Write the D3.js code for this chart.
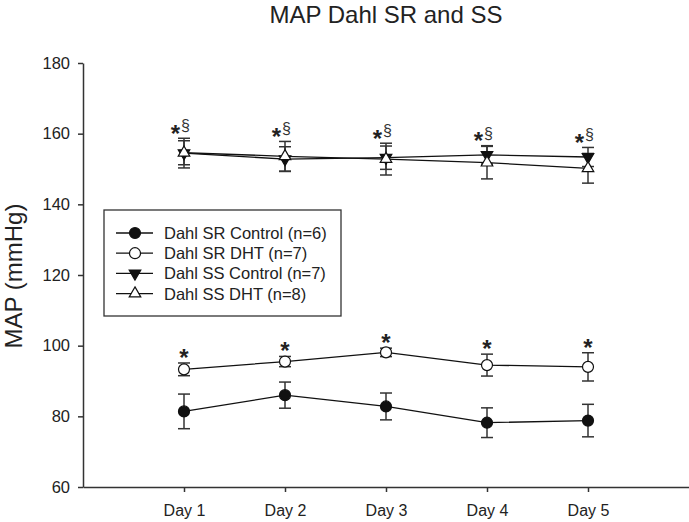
<!DOCTYPE html>
<html><head><meta charset="utf-8">
<script src="https://cdn.jsdelivr.net/npm/d3@7"></script>
<style>
body{margin:0;background:#fff;}
svg{display:block;font-family:"Liberation Sans",Arial,sans-serif;}
</style></head>
<body>
<svg id="chart" width="689" height="522"></svg>
<script>
const days = ["Day 1","Day 2","Day 3","Day 4","Day 5"];
const yTicks = [60,80,100,120,140,160,180];
const seriesNames = ["Dahl SR Control (n=6)","Dahl SR DHT (n=7)","Dahl SS Control (n=7)","Dahl SS DHT (n=8)"];
const srControl = [81.4, 86.0, 82.8, 78.2, 78.8];
const srControlSE = [4.9, 3.7, 3.8, 4.2, 4.6];
const srDHT = [93.3, 95.5, 98.1, 94.5, 94.0];
const srDHTSE = [1.8, 1.45, 1.2, 3.1, 4.0];
const ssControl = [154.5, 152.8, 153.2, 154.0, 153.4];
const ssControlSE = [4.2, 3.5, 3.3, 2.6, 2.7];
const ssDHT = [154.6, 153.6, 152.8, 151.8, 150.2];
const ssDHTSE = [3.4, 4.2, 4.5, 4.6, 4.2];
const srMarks = ["*","*","*","*","*"];
const ssMarks = ["§","§","§","§","§"];

const svg = d3.select("#chart");
const x = d3.scaleLinear().domain([0,6]).range([83,689]);
const y = d3.scaleLinear().domain([60,180]).range([487,63]);
const axisColor = "#333";

// title
svg.append("text").attr("x",386).attr("y",23).attr("text-anchor","middle")
  .attr("font-size",24).attr("fill","#222").text("MAP Dahl SR and SS");

// y label
svg.append("text").attr("transform","translate(22,276) rotate(-90)")
  .attr("text-anchor","middle").attr("font-size",24).attr("fill","#222").text("MAP (mmHg)");

// axes
const ya = svg.append("g").attr("transform","translate(83,0)")
  .call(d3.axisLeft(y).tickValues(yTicks).tickSize(5).tickSizeOuter(0).tickPadding(8));
ya.selectAll("text").attr("font-size",16.5).attr("fill","#222").attr("font-family",null);
const xa = svg.append("g").attr("transform","translate(0,487)")
  .call(d3.axisBottom(x).tickValues([1,2,3,4,5]).tickFormat(d=>days[d-1]).tickSize(5).tickSizeOuter(0).tickPadding(13));
xa.selectAll("text").attr("font-size",16).attr("fill","#222").attr("font-family",null);
svg.selectAll(".domain, .tick line").attr("stroke",axisColor).attr("stroke-width",1.5);

const series = [
  {vals:srControl, se:srControlSE, sym:"circle", fill:"#111"},
  {vals:srDHT, se:srDHTSE, sym:"circle", fill:"#fff"},
  {vals:ssControl, se:ssControlSE, sym:"down", fill:"#111"},
  {vals:ssDHT, se:ssDHTSE, sym:"up", fill:"#fff"}
];

function drawSymbol(g, s, cx, cy){
  if(s.sym==="circle"){
    g.append("circle").attr("cx",cx).attr("cy",cy).attr("r",5.5)
      .attr("fill",s.fill).attr("stroke","#111").attr("stroke-width",1.2);
  } else {
    const p = d3.symbol().type(d3.symbolTriangle).size(58)();
    g.append("path").attr("d",p)
      .attr("transform",`translate(${cx},${cy})`+(s.sym==="down"?" rotate(180)":""))
      .attr("fill",s.fill).attr("stroke","#111").attr("stroke-width",1.2);
  }
}

const line = d3.line().x((d,i)=>x(i+1)).y(d=>y(d));
series.forEach(s=>{
  const g = svg.append("g");
  s.vals.forEach((v,i)=>{
    const cx = x(i+1);
    g.append("line").attr("x1",cx).attr("x2",cx).attr("y1",y(v+s.se[i])).attr("y2",y(v-s.se[i]))
      .attr("stroke",axisColor).attr("stroke-width",1.5);
    [v+s.se[i], v-s.se[i]].forEach(e=>{
      g.append("line").attr("x1",cx-6).attr("x2",cx+6).attr("y1",y(e)).attr("y2",y(e))
        .attr("stroke",axisColor).attr("stroke-width",1.5);
    });
  });
  g.append("path").attr("d",line(s.vals)).attr("fill","none").attr("stroke","#111").attr("stroke-width",1.3);
});
series.forEach(s=>{
  s.vals.forEach((v,i)=>drawSymbol(svg, s, x(i+1), y(v)));
});

// significance marks
srDHT.forEach((v,i)=>{
  const top = y(v+srDHTSE[i]);
  svg.append("text").attr("x",x(i+1)).attr("y",top+3).attr("text-anchor","middle")
    .attr("font-size",24).attr("font-weight","bold").attr("fill","#222").text(srMarks[i]);
});
ssControl.forEach((v,i)=>{
  const top = Math.min(y(v+ssControlSE[i]), y(ssDHT[i]+ssDHTSE[i]));
  svg.append("text").attr("x",x(i+1)-8.5).attr("y",top+3.5).attr("text-anchor","middle")
    .attr("font-size",24).attr("font-weight","bold").attr("fill","#222").text(srMarks[i]);
  svg.append("text").attr("x",x(i+1)+1.5).attr("y",top-7).attr("text-anchor","middle")
    .attr("font-size",16).attr("fill","#333").text(ssMarks[i]);
});

// legend
const lg = svg.append("g");
lg.append("rect").attr("x",104).attr("y",210).attr("width",237).attr("height",106)
  .attr("fill","#fff").attr("stroke","#333").attr("stroke-width",1.3);
series.forEach((s,i)=>{
  const cy = 233 + i*20.2;
  lg.append("line").attr("x1",116).attr("x2",153).attr("y1",cy).attr("y2",cy)
    .attr("stroke","#111").attr("stroke-width",1.3);
  drawSymbol(lg, s, 135, cy);
  lg.append("text").attr("x",164).attr("y",cy+6).attr("font-size",16.5).attr("fill","#222").text(seriesNames[i]);
});
</script>
</body></html>
